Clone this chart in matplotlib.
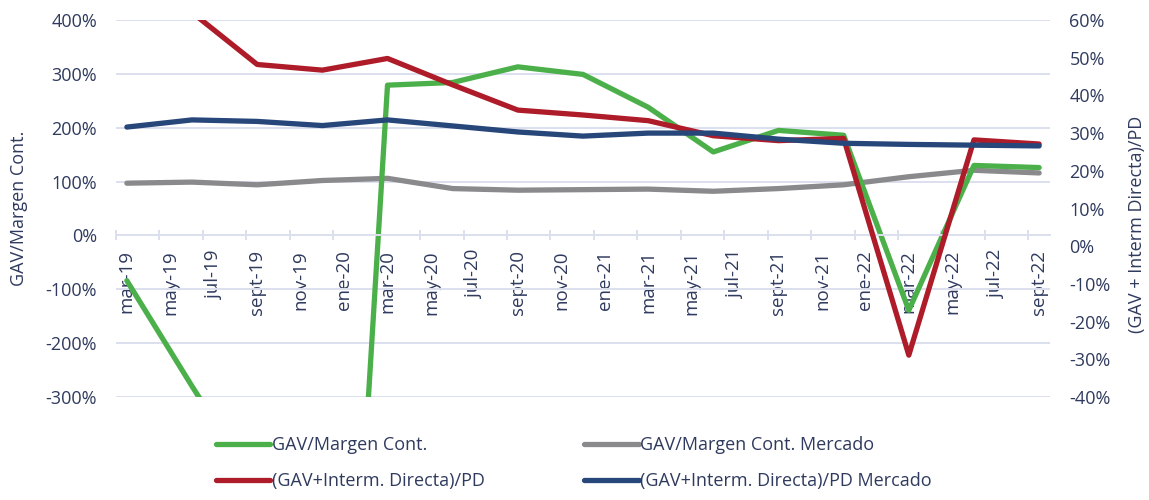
import numpy as np
import matplotlib
matplotlib.use("Agg")
import matplotlib.pyplot as plt
from matplotlib.ticker import FuncFormatter

plt.rcParams['font.family'] = ['Open Sans', 'DejaVu Sans']

# Monthly category axis (labels shown every 2nd month)
mes = ['ene', 'feb', 'mar', 'abr', 'may', 'jun', 'jul', 'ago', 'sept', 'oct', 'nov', 'dic']
months = []
for yy in range(19, 23):
    for m in mes:
        months.append(f"{m}-{yy}")
months = months[months.index('mar-19'):months.index('sept-22') + 1]

# Quarterly data points
quarters = ['mar-19', 'jun-19', 'sept-19', 'dic-19', 'mar-20', 'jun-20', 'sept-20', 'dic-20',
            'mar-21', 'jun-21', 'sept-21', 'dic-21', 'mar-22', 'jun-22', 'sept-22']

# left axis (%)
gav_margen = [-84, -280, -470, -1700, 279, 284, 313, 299, 238, 155, 195, 186, -139, 130, 126]
gav_margen_mercado = [97, 99, 94, 102, 106, 87, 84, 85, 86, 82, 87, 94, 109, 121, 116]
# right axis (%)
gav_pd = [75, 62, 48.2, 46.7, 49.8, 42.8, 36.1, 34.8, 33.3, 29.3, 28.0, 28.6, -28.9, 28.2, 27.1]
gav_pd_mercado = [31.6, 33.5, 33.1, 32.0, 33.5, 31.9, 30.3, 29.2, 30.0, 30.0, 28.4, 27.3, 27.0, 26.8, 26.6]

c_green = '#4bb04a'
c_gray = '#8a8a8c'
c_red = '#ae1b29'
c_navy = '#27467a'
c_text = '#2f3a5e'
c_grid = '#dcdfee'

x = [months.index(q) for q in quarters]

fig = plt.figure(figsize=(11.49, 5.0), dpi=100)
ax = fig.add_axes([116 / 1149, 1 - 397 / 500, 934 / 1149, 377 / 500])
ax2 = ax.twinx()

lw = 3.8
l_gray, = ax.plot(x, gav_margen_mercado, color=c_gray, lw=lw, solid_capstyle='round',
                  label='GAV/Margen Cont. Mercado')
l_green, = ax.plot(x, gav_margen, color=c_green, lw=lw, solid_capstyle='round',
                   label='GAV/Margen Cont.')
l_red, = ax2.plot(x, gav_pd, color=c_red, lw=lw, solid_capstyle='round',
                  label='(GAV+Interm. Directa)/PD')
l_navy, = ax2.plot(x, gav_pd_mercado, color=c_navy, lw=lw, solid_capstyle='round',
                   label='(GAV+Interm. Directa)/PD Mercado')

ax.set_xlim(-0.5, len(months) - 0.5)
ax.set_ylim(-300, 400)
ax.set_yticks(np.arange(-300, 401, 100))
ax2.set_ylim(-40, 60)
ax2.set_yticks(np.arange(-40, 61, 10))

pct = FuncFormatter(lambda v, p: f"{v:.0f}%")
ax.yaxis.set_major_formatter(pct)
ax2.yaxis.set_major_formatter(pct)

ax.grid(axis='y', color=c_grid, lw=1.4)
ax.set_axisbelow(True)
for s in ['top', 'right', 'left']:
    ax.spines[s].set_visible(False)
for s in ax2.spines.values():
    s.set_visible(False)
ax.spines['bottom'].set_position(('data', 0))
ax.spines['bottom'].set_color(c_grid)
ax.spines['bottom'].set_linewidth(1.4)

ax.set_xticks(range(0, len(months), 2))
ax.set_xticklabels(months[::2], rotation=90)
ax.set_xticks(np.arange(-0.5, len(months) - 1, 2), minor=True)
ax.tick_params(axis='x', which='major', length=0, pad=10.5, labelsize=13.5, colors=c_text)
ax.tick_params(axis='x', which='minor', length=7, direction='inout', color=c_grid, width=1.4)
ax.tick_params(axis='y', length=0, pad=13.5, labelsize=13, colors=c_text)
ax2.tick_params(axis='y', length=0, pad=14, labelsize=13, colors=c_text)

ax.set_ylabel('GAV/Margen Cont.', fontsize=13, color=c_text)
ax.yaxis.set_label_coords(-0.094, 0.5)
ax2.set_ylabel('(GAV + Interm Directa)/PD', fontsize=13, color=c_text)
ax2.yaxis.set_label_coords(1.0835, 0.457)

fig.legend([l_green, l_red, l_gray, l_navy],
           [l.get_label() for l in [l_green, l_red, l_gray, l_navy]],
           ncol=2, frameon=False, fontsize=13, labelcolor=c_text,
           handlelength=3.0, handletextpad=0.1, columnspacing=5.5,
           labelspacing=1.0, loc='upper left', bbox_to_anchor=(200 / 1149, 1 - 420 / 500))

fig.savefig('out.png', dpi=100)
